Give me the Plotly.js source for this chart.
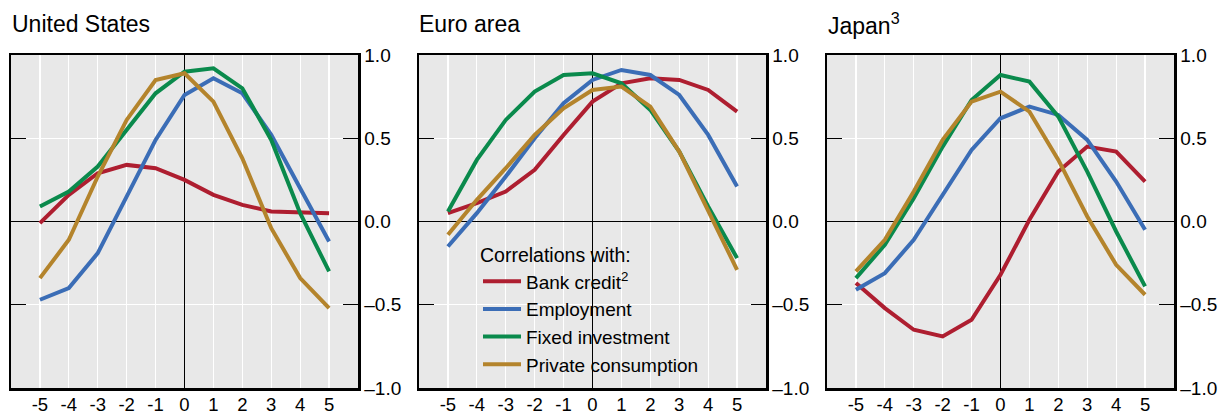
<!DOCTYPE html>
<html>
<head>
<meta charset="utf-8">
<script src="https://cdn.plot.ly/plotly-3.0.1.min.js"></script>
<style>
html,body{margin:0;padding:0;background:#fff;}
#chart{width:1228px;height:414px;}
</style>
</head>
<body>
<div id="chart"></div>
<script>
// ---- data ----
const lags = [-5, -4, -3, -2, -1, 0, 1, 2, 3, 4, 5];
const xTickLabels = ["-5", "-4", "-3", "-2", "-1", "0", "1", "2", "3", "4", "5"];
const yTickVals = [-1, -0.5, 0, 0.5, 1];
const yTickLabels = ["\u20131.0", "\u20130.5", "0.0", "0.5", "1.0"];

const panelTitles = ["United States", "Euro area", "Japan<sup>3</sup>"];
const seriesNames = ["Bank credit<sup>2</sup>", "Employment", "Fixed investment", "Private consumption"];
const seriesColors = ["#AE1E30", "#3B6DB6", "#0A8A4C", "#B4842C"];

// United States
const usBankCredit   = [-0.01, 0.16, 0.29, 0.34, 0.32, 0.25, 0.16, 0.10, 0.06, 0.055, 0.05];
const usEmployment   = [-0.47, -0.40, -0.19, 0.15, 0.49, 0.76, 0.86, 0.77, 0.52, 0.20, -0.12];
const usInvestment   = [0.09, 0.18, 0.33, 0.55, 0.77, 0.90, 0.92, 0.80, 0.49, 0.05, -0.30];
const usConsumption  = [-0.34, -0.11, 0.27, 0.61, 0.85, 0.89, 0.72, 0.38, -0.04, -0.34, -0.52];

// Euro area
const euBankCredit   = [0.05, 0.11, 0.18, 0.31, 0.52, 0.72, 0.83, 0.86, 0.85, 0.79, 0.66];
const euEmployment   = [-0.15, 0.05, 0.27, 0.50, 0.71, 0.85, 0.91, 0.88, 0.76, 0.52, 0.21];
const euInvestment   = [0.06, 0.37, 0.61, 0.78, 0.88, 0.89, 0.83, 0.67, 0.42, 0.09, -0.22];
const euConsumption  = [-0.08, 0.13, 0.32, 0.52, 0.68, 0.79, 0.81, 0.69, 0.42, 0.06, -0.29];

// Japan
const jpBankCredit   = [-0.37, -0.52, -0.65, -0.69, -0.59, -0.32, 0.01, 0.30, 0.45, 0.42, 0.24];
const jpEmployment   = [-0.41, -0.31, -0.11, 0.16, 0.43, 0.62, 0.69, 0.64, 0.49, 0.24, -0.05];
const jpInvestment   = [-0.34, -0.14, 0.14, 0.45, 0.73, 0.88, 0.84, 0.63, 0.30, -0.06, -0.39];
const jpConsumption  = [-0.30, -0.11, 0.18, 0.49, 0.72, 0.78, 0.66, 0.37, 0.03, -0.26, -0.44];

const panels = [
  [usBankCredit, usEmployment, usInvestment, usConsumption],
  [euBankCredit, euEmployment, euInvestment, euConsumption],
  [jpBankCredit, jpEmployment, jpInvestment, jpConsumption]
];

// ---- layout geometry (pixels) ----
const W = 1228, H = 414;
const panelLeft = [11, 419, 827];
const panelWidth = 347;
const plotTop = 55, plotBottom = 388;
const titleX = [10, 417, 826];

const traces = [];
panels.forEach((series, p) => {
  series.forEach((vals, s) => {
    traces.push({
      type: "scatter",
      mode: "lines",
      x: lags,
      y: vals,
      name: seriesNames[s],
      line: {color: seriesColors[s], width: 4},
      xaxis: p === 0 ? "x" : "x" + (p + 1),
      yaxis: p === 0 ? "y" : "y" + (p + 1),
      showlegend: p === 1,
      hoverinfo: "skip"
    });
  });
});

const font = {family: "Liberation Sans, Arial, sans-serif", color: "#000"};
const layout = {
  width: W, height: H,
  margin: {l: 0, r: 0, t: 0, b: 0},
  paper_bgcolor: "#fff",
  plot_bgcolor: "#E8E8E8",
  font: Object.assign({size: 19}, font),
  showlegend: true,
  legend: {
    x: 478 / W, y: 1 - 237 / H, xanchor: "left", yanchor: "top",
    bgcolor: "rgba(0,0,0,0)",
    font: Object.assign({size: 19}, font),
    title: {text: "Correlations with:", font: Object.assign({size: 19.5}, font), side: "top"},
    tracegroupgap: 0,
    itemwidth: 38
  },
  annotations: panelTitles.map((t, i) => ({
    text: t, xref: "paper", yref: "paper",
    x: titleX[i] / W, y: 1 - 24 / H, xanchor: "left", yanchor: "middle",
    showarrow: false, font: Object.assign({size: 23}, font)
  }))
};

for (let p = 0; p < 3; p++) {
  const suf = p === 0 ? "" : String(p + 1);
  layout["xaxis" + suf] = {
    domain: [panelLeft[p] / W, (panelLeft[p] + panelWidth) / W],
    range: [-6, 6],
    tickvals: lags, ticktext: xTickLabels,
    ticks: "", showgrid: true, gridcolor: "#FFFFFF", gridwidth: 1.3,
    zeroline: true, zerolinecolor: "#000", zerolinewidth: 1,
    showline: true, linecolor: "#000", linewidth: 2.5, mirror: true,
    anchor: p === 0 ? "y" : "y" + suf,
    ticklabelstandoff: -2,
    fixedrange: true,
    tickfont: Object.assign({size: 18.5}, font)
  };
  layout["yaxis" + suf] = {
    domain: [1 - plotBottom / H, 1 - plotTop / H],
    range: [-1, 1],
    side: "right",
    tickvals: yTickVals, ticktext: yTickLabels,
    ticks: "inside", ticklen: 15, tickwidth: 1, tickcolor: "#000",
    showgrid: true, gridcolor: "#FFFFFF", gridwidth: 1.3,
    zeroline: true, zerolinecolor: "#000", zerolinewidth: 1,
    showline: true, linecolor: "#000", linewidth: 2.5, mirror: "ticks",
    anchor: p === 0 ? "x" : "x" + suf,
    fixedrange: true,
    tickfont: Object.assign({size: 19}, font)
  };
}

Plotly.newPlot("chart", traces, layout, {staticPlot: true, displayModeBar: false});
</script>
</body>
</html>
